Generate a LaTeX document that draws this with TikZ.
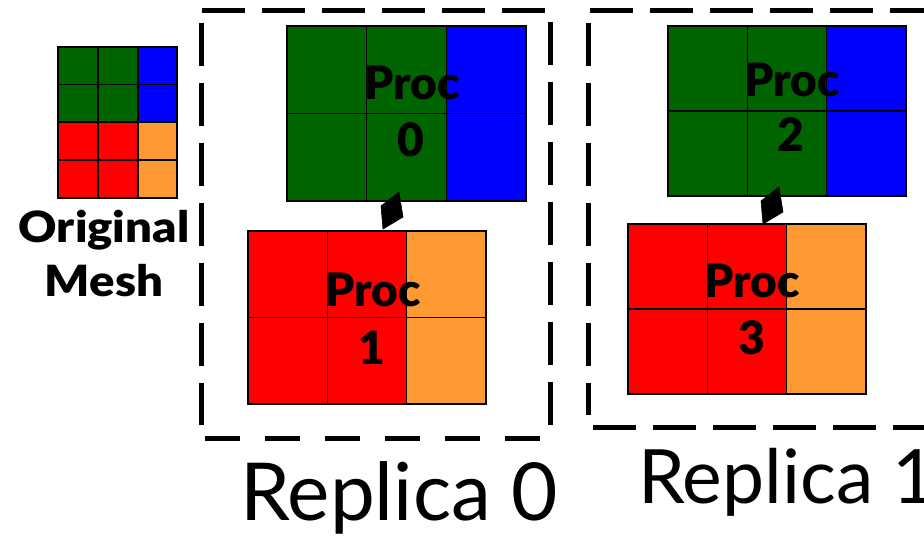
\documentclass[tikz,border=0pt]{standalone}
\usepackage{fontspec}
\setmainfont{Lato}
\newfontfamily\heavyfont{Lato Black}
\newfontfamily\heavywide{Lato Black}[FakeStretch=1.1]
\usetikzlibrary{arrows.meta}
\definecolor{meshgreen}{RGB}{0,100,0}
\definecolor{meshblue}{RGB}{0,0,255}
\definecolor{meshred}{RGB}{255,0,0}
\definecolor{meshorange}{RGB}{255,153,51}
\tikzset{
  cellline/.style={draw=black, line width=1.6pt},
  gridframe/.style={draw=black, line width=1.6pt, inner sep=0pt, outer sep=0pt, rectangle},
  proclabel/.style={inner sep=0pt, font=\fontsize{46}{46}\selectfont\heavyfont},
  meshlabel/.style={inner sep=0pt, font=\fontsize{43}{43}\selectfont\heavywide},
  replabel/.style={inner sep=0pt, anchor=base west},
  dashbox/.style={line width=5pt, dash pattern=on 43pt off 17pt},
  dashboxb/.style={line width=5pt, dash pattern=on 35pt off 25pt},
  kitearrow/.style={fill=black, draw=black, line width=0.6pt, line join=miter}
}
\newcommand{\procgrid}[7]{%
  \pgfmathsetmacro\pgxa{#2+(#4-#2)/3}%
  \pgfmathsetmacro\pgxb{#2+2*(#4-#2)/3}%
  \pgfmathsetmacro\pgym{(#3+#5)/2}%
  \pgfmathsetmacro\pgw{#4-#2}%
  \pgfmathsetmacro\pgh{#5-#3}%
  \fill[#6] (#2,#3) rectangle (\pgxb,#5);
  \fill[#7] (\pgxb,#3) rectangle (#4,#5);
  \draw[cellline] (\pgxa,#3) -- (\pgxa,#5) (\pgxb,#3) -- (\pgxb,#5) (#2,\pgym) -- (#4,\pgym);
  \node[gridframe, minimum width=\pgw pt, minimum height=\pgh pt, anchor=north west] (#1) at (#2,#3) {};
}
\begin{document}
\begin{tikzpicture}[x=1pt, y=-1pt]
\useasboundingbox (0,0) rectangle (924,537);

% original mesh
\fill[meshgreen] (58,47) rectangle (138,122);
\fill[meshblue] (138,47) rectangle (177,122);
\fill[meshred] (58,122) rectangle (138,198);
\fill[meshorange] (138,122) rectangle (177,198);
\draw[cellline] (98,47) -- (98,198) (138,47) -- (138,198)
  (58,84.5) -- (177,84.5) (58,122) -- (177,122) (58,160) -- (177,160);
\node[gridframe, minimum width=119pt, minimum height=151pt, anchor=north west] (orig) at (58,47) {};
\node[meshlabel, anchor=base] (origlbl1) at (104,243) {Original};
\node[meshlabel, anchor=base] (origlbl2) at (104,297) {Mesh};

% replica 0
\draw[dashbox] (202,11) -- (550,11);
\draw[dashbox] (201,23) -- (201,425);
\draw[dashbox] (550,22) -- (550,425);
\draw[dashboxb] (205,438) -- (550,438);
\procgrid{g0}{287}{26}{526}{201}{meshgreen}{meshblue}
\procgrid{g1}{248}{231}{486}{404}{meshred}{meshorange}
\node[proclabel, anchor=base] (p0a) at (412,100) {Proc};
\node[proclabel, anchor=base] (p0b) at (411,157) {0};
\node[proclabel, anchor=base] (p1a) at (373,307) {Proc};
\node[proclabel, anchor=base] (p1b) at (372,364) {1};
\coordinate (a0t) at (399,192);
\coordinate (a0l) at (381,206);
\coordinate (a0b) at (383,229);
\coordinate (a0r) at (403,217);
\filldraw[kitearrow] (a0t) -- (a0l) -- (a0b) -- (a0r) -- cycle;
\node[replabel, font=\fontsize{80}{80}\selectfont] (rep0) at (240,520) {Replica 0};

% replica 1
\draw[dashbox] (590,11) -- (940,11);
\draw[dashbox] (588,23) -- (588,415);
\draw[dashbox] (593,427) -- (940,427);
\procgrid{g2}{668}{26}{906}{196}{meshgreen}{meshblue}
\procgrid{g3}{628}{224}{866}{394}{meshred}{meshorange}
\node[proclabel, anchor=base] (p2a) at (792,97) {Proc};
\node[proclabel, anchor=base] (p2b) at (791,152) {2};
\node[proclabel, anchor=base] (p3a) at (752,298) {Proc};
\node[proclabel, anchor=base] (p3b) at (752,355) {3};
\coordinate (a1t) at (779,187);
\coordinate (a1l) at (761,201);
\coordinate (a1b) at (763,224);
\coordinate (a1r) at (783,212);
\filldraw[kitearrow] (a1t) -- (a1l) -- (a1b) -- (a1r) -- cycle;
\node[replabel, font=\fontsize{75}{75}\selectfont] (rep1) at (638,503) {Replica 1};
\end{tikzpicture}
\end{document}
